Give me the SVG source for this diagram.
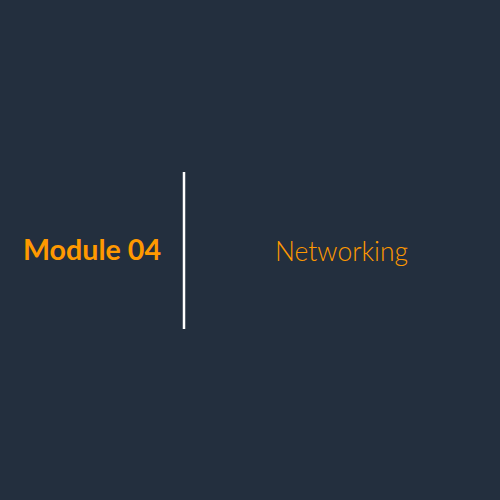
<svg xmlns="http://www.w3.org/2000/svg" width="500" height="500" viewBox="0 0 500 500">
<style>
.t{fill:#FF9900;font-family:Lato,"Noto Sans",sans-serif}
.b{font-weight:700;font-size:28px}
.l{font-weight:300;font-size:28px}
</style>
<rect width="500" height="500" fill="#232F3E"/>
<g id="title"><text class="t b" x="23" y="260" textLength="138" lengthAdjust="spacingAndGlyphs">Module 04</text></g>
<g id="divider"><line x1="184" y1="172" x2="184" y2="329" stroke="#FFFFFF" stroke-width="2.5"/></g>
<g id="subtitle"><text class="t l" x="275" y="261" textLength="133" lengthAdjust="spacingAndGlyphs">Networking</text></g>
</svg>
